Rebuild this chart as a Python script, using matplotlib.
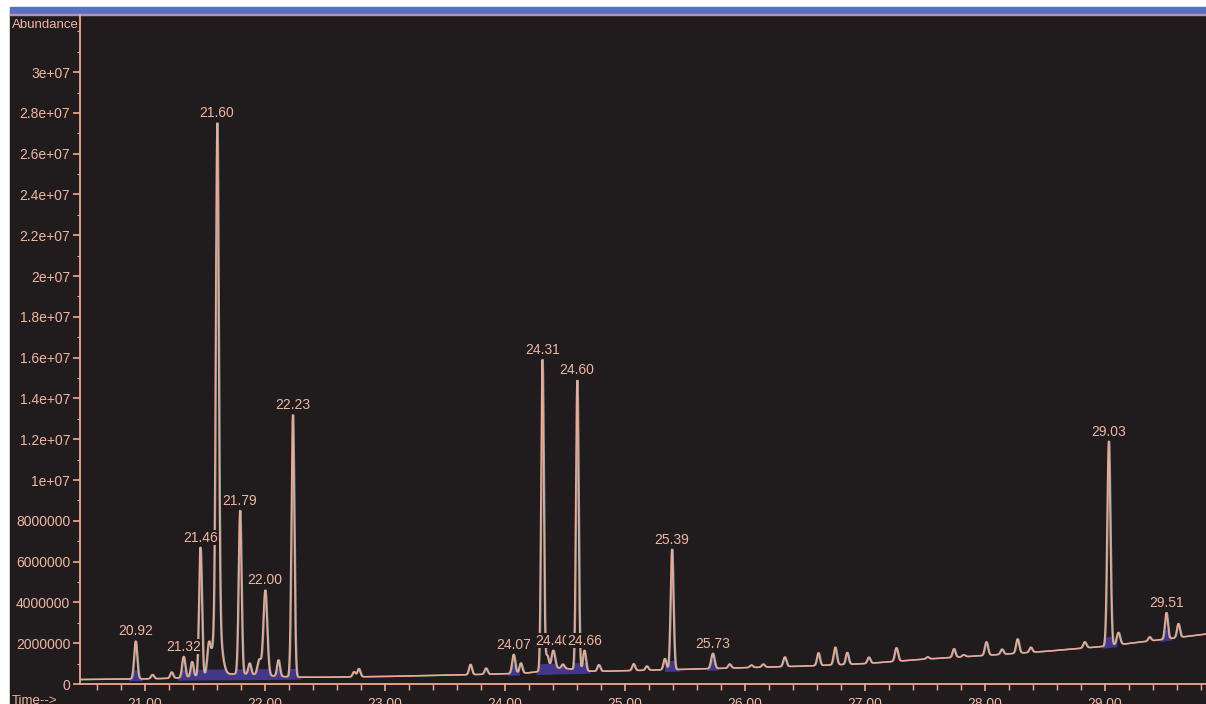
import numpy as np
import matplotlib.pyplot as plt
from matplotlib.patches import Rectangle

plt.rcParams['font.family'] = ['Liberation Sans', 'DejaVu Sans']

# baseline drift of the total ion current (abundance, millions)
base_time = [20.46, 21.0, 21.5, 22.0, 22.5, 23.0, 23.5, 24.0, 24.5, 25.0,
             25.5, 26.0, 26.5, 27.0, 27.5, 28.0, 28.5, 29.0, 29.5, 29.84]
base_level = [0.22, 0.25, 0.28, 0.30, 0.33, 0.37, 0.43, 0.50, 0.58, 0.65,
              0.72, 0.80, 0.88, 1.00, 1.22, 1.40, 1.60, 1.85, 2.20, 2.45]

# integrated peaks: retention time (min), apex abundance (millions), width (min)
peak_rt = [20.92, 21.32, 21.46, 21.60, 21.79, 22.00, 22.23, 24.07,
           24.31, 24.40, 24.60, 24.66, 25.39, 25.73, 29.03, 29.51]
peak_top = [2.1, 1.35, 6.7, 27.5, 8.5, 4.6, 13.2, 1.45,
            15.9, 1.65, 14.9, 1.65, 6.6, 1.5, 11.9, 3.5]
peak_width = [0.013, 0.013, 0.012, 0.012, 0.012, 0.016, 0.012, 0.013,
              0.011, 0.015, 0.011, 0.012, 0.012, 0.014, 0.013, 0.012]

# small unlabelled peaks, shoulders and humps (height above baseline, millions)
minor_rt = [21.06, 21.22, 21.39, 21.53, 21.60, 21.75, 21.87, 21.95, 22.11,
            22.74, 22.78, 23.71, 23.84, 24.13, 24.35, 24.45, 24.48, 24.78,
            25.07, 25.18, 25.33, 25.87, 26.05, 26.15, 26.33, 26.61, 26.75,
            26.85, 27.03, 27.26, 27.52, 27.74, 27.82, 28.01, 28.14, 28.27,
            28.38, 28.83, 29.11, 29.37, 29.61]
minor_height = [0.2, 0.3, 0.75, 1.4, 2.8, 0.2, 0.55, 0.75, 0.8,
                0.25, 0.4, 0.5, 0.3, 0.5, 0.7, 0.2, 0.2, 0.32,
                0.33, 0.2, 0.55, 0.2, 0.12, 0.15, 0.47, 0.62, 0.86,
                0.58, 0.3, 0.66, 0.1, 0.42, 0.1, 0.66, 0.25, 0.7,
                0.25, 0.3, 0.6, 0.2, 0.68]
minor_width = [0.012, 0.012, 0.012, 0.014, 0.032, 0.25, 0.012, 0.015, 0.012,
               0.012, 0.012, 0.012, 0.012, 0.012, 0.012, 0.12, 0.012, 0.012,
               0.012, 0.012, 0.012, 0.012, 0.012, 0.012, 0.013, 0.012, 0.013,
               0.012, 0.012, 0.013, 0.012, 0.012, 0.012, 0.013, 0.012, 0.013,
               0.012, 0.013, 0.014, 0.012, 0.012]

# integration windows shaded under the peaks
integ_start = [20.86, 21.27, 24.02, 24.26, 25.33, 25.68, 28.98, 29.46]
integ_end = [20.98, 22.30, 24.12, 24.71, 25.45, 25.78, 29.10, 29.56]

x_ticks = [21, 22, 23, 24, 25, 26, 27, 28, 29]
y_ticks = list(range(0, 32, 2))
y_labels = ['0', '2000000', '4000000', '6000000', '8000000', '1e+07',
            '1.2e+07', '1.4e+07', '1.6e+07', '1.8e+07', '2e+07', '2.2e+07',
            '2.4e+07', '2.6e+07', '2.8e+07', '3e+07']

bg = '#201c1e'
salmon = '#f2a88e'
text_col = '#f0b6a2'
cyan = '#8ec3cc'
purple = '#4a3c9e'


def gauss(x, rt, w):
    return np.exp(-0.5 * ((np.asarray(x) - rt) / w) ** 2)


t = np.linspace(20.46, 29.84, 8000)
base = np.interp(t, base_time, base_level)
background = base.copy()
for rt, h, w in zip(minor_rt, minor_height, minor_width):
    background += h * gauss(t, rt, w)

# peak heights so that each labelled apex lands on its read abundance
rt_arr = np.array(peak_rt)
shape = np.array([[gauss(ri, rj, wj) for rj, wj in zip(peak_rt, peak_width)] for ri in peak_rt])
rhs = np.array(peak_top) - np.interp(rt_arr, t, background)
heights = np.linalg.solve(shape, rhs)

signal = background.copy()
for rt, h, w in zip(peak_rt, heights, peak_width):
    signal += h * gauss(t, rt, w)

W, H = 1206, 704
fig = plt.figure(figsize=(W / 100, H / 100), dpi=100, facecolor='white')
fig.patches.append(Rectangle((10 / W, 0), 1, (H - 14) / H, transform=fig.transFigure,
                             color=bg, zorder=-10))
fig.patches.append(Rectangle((10 / W, (H - 14) / H), 1, 7 / H, transform=fig.transFigure,
                             color='#5670c4', zorder=-10))
fig.patches.append(Rectangle((10 / W, (H - 15) / H), 1, 1.5 / H, transform=fig.transFigure,
                             color='#c090a8', zorder=-10))

ax = fig.add_axes([80 / W, 20 / H, (W - 80) / W, 669 / H])
ax.set_facecolor('none')
ax.set_xlim(20.458, 29.842)
ax.set_ylim(0, 32.8e6)

# integrated area, shown as a low band along the peak bases
fill_top = np.minimum(signal, base + 0.45)
for s, e in zip(integ_start, integ_end):
    m = (t >= s) & (t <= e)
    ax.fill_between(t, (base - 0.08) * 1e6, fill_top * 1e6, where=m, color=purple,
                    lw=0, alpha=0.85, zorder=1)

ax.plot(t + 0.007, signal * 1e6, color=cyan, lw=1.1, alpha=0.85, zorder=2)
ax.plot(t, signal * 1e6, color=salmon, lw=1.1, zorder=3)

for rt, top in zip(peak_rt, peak_top):
    ax.annotate(f'{rt:.2f}', (rt, top * 1e6), xytext=(0, 2), textcoords='offset points',
                ha='center', va='bottom', fontsize=10, color=text_col, zorder=4,
                bbox=dict(fc=bg, ec='none', pad=0.3))

for side in ['top', 'right']:
    ax.spines[side].set_visible(False)
for side in ['left', 'bottom']:
    ax.spines[side].set_color(salmon)
    ax.spines[side].set_linewidth(1.3)

ax.set_xticks(x_ticks)
ax.set_xticklabels([f'{v:.2f}' for v in x_ticks])
ax.set_xticks(np.arange(20.6, 29.9, 0.2), minor=True)
ax.set_yticks([v * 1e6 for v in y_ticks])
ax.set_yticklabels(y_labels)
ax.set_yticks(np.arange(0, 32.5e6, 1e6), minor=True)
ax.tick_params(axis='both', which='both', colors=salmon, labelcolor=text_col,
               labelsize=10, direction='out')
ax.tick_params(axis='x', which='major', length=5, width=1.2, pad=4)
ax.tick_params(axis='x', which='minor', length=4, width=1)
ax.tick_params(axis='y', which='major', length=5, width=1.2, pad=2)
ax.tick_params(axis='y', which='minor', length=2.5, width=0.8)

fig.text(12 / W, (H - 25) / H, 'Abundance', fontsize=9.5, color=text_col,
         ha='left', va='center')
fig.text(12 / W, (H - 701) / H, 'Time-->', fontsize=9.5, color=text_col,
         ha='left', va='center')

fig.savefig('out.png', dpi=100, facecolor=fig.get_facecolor())
